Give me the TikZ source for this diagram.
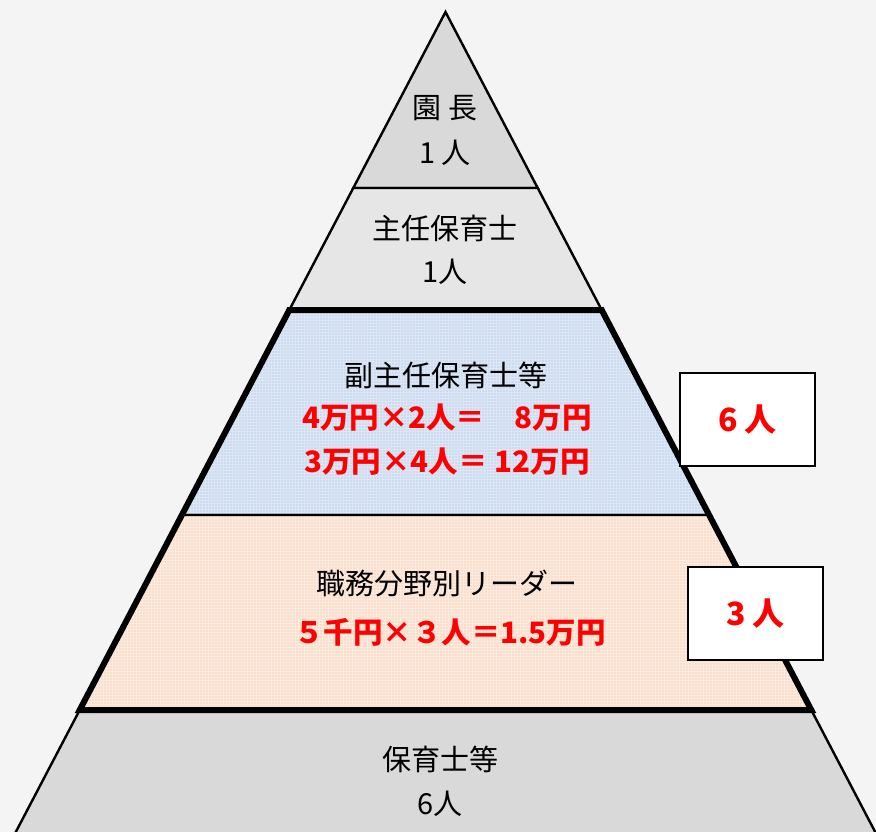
\documentclass[tikz,border=0pt]{standalone}
\usepackage{fontspec}
\newfontfamily\jp{Noto Sans CJK JP}
\usetikzlibrary{patterns.meta}

\definecolor{bgcol}{HTML}{F4F4F4}
\definecolor{topgray}{HTML}{D9D9D9}
\definecolor{midgray}{HTML}{E6E6E6}
\definecolor{bluefill}{HTML}{DCE6F5}
\definecolor{bluedot}{HTML}{9DB9E3}
\definecolor{orangefill}{HTML}{FCEADF}
\definecolor{orangedot}{HTML}{F5B990}
\definecolor{redtxt}{HTML}{FF0000}

\tikzset{
  thinline/.style={line width=2.4pt, line join=miter},
  thickline/.style={line width=6pt, line join=miter},
  bluedots/.style={preaction={fill=bluefill}, pattern={Dots[distance=3pt, radius=0.7pt]}, pattern color=bluedot},
  orangedots/.style={preaction={fill=orangefill}, pattern={Dots[distance=3pt, radius=0.7pt]}, pattern color=orangedot},
  lbl/.style={font=\jp\fontsize{29}{32}\selectfont, inner sep=0pt},
  redlbl/.style={font=\jp\bfseries\fontsize{29.5}{32}\selectfont, text=redtxt, inner sep=0pt},
  numbox/.style={draw, fill=white, line width=1.2pt, minimum width=135pt, minimum height=93pt,
    font=\jp\bfseries\fontsize{32}{34}\selectfont, text=redtxt}
}

\begin{document}
\begin{tikzpicture}[x=1pt,y=-1pt]
\fill[bgcol] (0,0) rectangle (876,832);
\useasboundingbox (0,0) rectangle (876,832);

\coordinate (A) at (445.5,12);
\coordinate (L1) at (353.3,188);  \coordinate (R1) at (537.7,188);
\coordinate (L2) at (289.3,310);  \coordinate (R2) at (601.7,310);
\coordinate (L3) at (181.9,515);  \coordinate (R3) at (709.1,515);
\coordinate (L4) at (79.7,710);   \coordinate (R4) at (811.3,710);
\coordinate (L5) at (11.6,840);   \coordinate (R5) at (879.4,840);

\begin{scope}
\clip (0,0) rectangle (876,832);
\draw[thinline, fill=topgray] (A) -- (R1) -- (L1) -- cycle;
\draw[thinline, fill=midgray] (L1) -- (R1) -- (R2) -- (L2) -- cycle;
\draw[thinline, bluedots] (L2) -- (R2) -- (R3) -- (L3) -- cycle;
\draw[thinline, orangedots] (L3) -- (R3) -- (R4) -- (L4) -- cycle;
\draw[thinline, fill=topgray] (L4) -- (R4) -- (R5) -- (L5) -- cycle;
\draw[thickline] (L2) -- (R2) -- (R4) -- (L4) -- cycle;
\end{scope}

\node[lbl] (enchou) at (445,108) {園 長};
\node[lbl] (enchoun) at (445,153) {1 人};
\node[lbl] (shunin) at (445,228) {主任保育士};
\node[lbl] (shuninn) at (445,272) {1人};
\node[lbl] (fuku) at (446,375) {副主任保育士等};
\node[redlbl] (fuku1) at (447,418) {4万円×2人＝　8万円};
\node[redlbl] (fuku2) at (447,462) {3万円×4人＝ 12万円};
\node[lbl] (leader) at (447,583) {職務分野別リーダー};
\node[redlbl] (leader1) at (450,632) {５千円×３人＝1.5万円};
\node[lbl] (hoiku) at (440,759) {保育士等};
\node[lbl] (hoikun) at (440,804) {6人};

\node[numbox] (box6) at (747.5,419.5) {6 人};
\node[numbox] (box3) at (755.5,613.5) {3 人};
\end{tikzpicture}
\end{document}
